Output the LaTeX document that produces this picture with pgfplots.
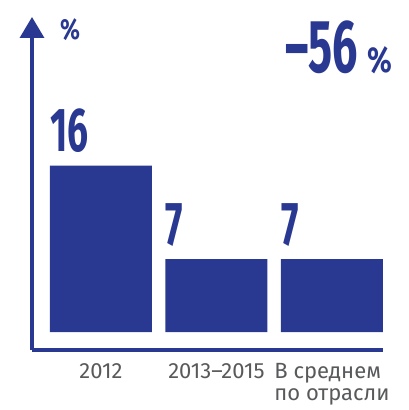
\documentclass[border=0pt]{standalone}
\usepackage{fontspec}
\setmainfont{Fira Sans}
\newfontfamily\numfont[FakeStretch=0.6]{Fira Sans}
\newfontfamily\pctfont[FakeStretch=0.8]{Fira Sans}
\usepackage{pgfplots}
\pgfplotsset{compat=1.18}
\usetikzlibrary{arrows.meta}

\definecolor{barblue}{HTML}{293991}
\definecolor{labelgray}{HTML}{58595B}

\begin{document}
\begin{tikzpicture}
\begin{axis}[
    scale only axis,
    width=351pt, height=333pt,
    xmin=-0.597, xmax=2.442,
    ymin=-1.73, ymax=30.29,
    axis lines=left,
    axis line style={barblue, line width=3.5pt},
    x axis line style={-},
    y axis line style={-{Triangle[width=24pt,length=21pt]}},
    ytick=\empty,
    xtick=data,
    xticklabels={2012, 2013--2015, {В среднем\\по отрасли}},
    major tick length=0pt,
    xticklabel style={font=\fontsize{22}{22}\selectfont, text=labelgray,
        anchor=north, align=left, inner sep=0pt, yshift=-13pt},
    ybar, bar width=0.883,
    nodes near coords={\pgfmathprintnumber[assume math mode=true]{\pgfplotspointmeta}},
    every node near coord/.append style={font=\numfont\bfseries\fontsize{62}{62}\selectfont,
        text=barblue, anchor=base west, inner sep=0pt, xshift=-51pt, yshift=14pt},
    clip=false,
]
\addplot[fill=barblue, draw=none] coordinates {(0,16) (1,7) (2,7)};
\node[font=\pctfont\bfseries\fontsize{29}{29}\selectfont, text=barblue, anchor=base, inner sep=0pt]
    at (axis cs:-0.268,28.08) {\%};
\node[font=\numfont\bfseries\fontsize{75}{75}\selectfont, text=barblue, anchor=base east, inner sep=0pt]
    at (axis cs:2.225,25.0) {–56};
\node[font=\pctfont\bfseries\fontsize{36}{36}\selectfont, text=barblue, anchor=base west, inner sep=0pt]
    at (axis cs:2.303,25.0) {\%};
\end{axis}
\pgfresetboundingbox
\path (current axis.south west) ++(-32pt,-60pt) rectangle ++(408pt,410pt);
\end{tikzpicture}
\end{document}
